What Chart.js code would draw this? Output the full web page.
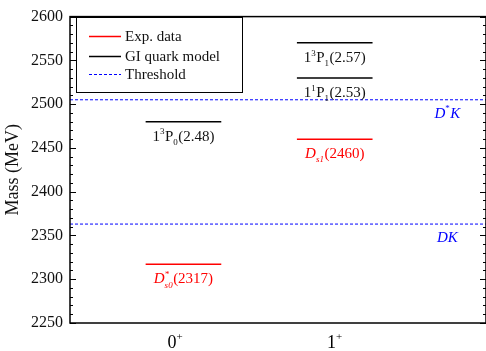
<!DOCTYPE html>
<html>
<head>
<meta charset="utf-8">
<script src="https://cdn.jsdelivr.net/npm/chart.js@4/dist/chart.umd.min.js"></script>
<style>
html,body{margin:0;padding:0;background:#fff;}
#wrap{width:486px;height:351px;}
</style>
</head>
<body>
<div id="wrap"><canvas id="c" width="486" height="351"></canvas></div>
<script>
// ---- data ----
const categories = ['0', '1'];          // J^P = 0+, 1+
const categoryPos = [1, 2];
const expCat = [1, 2];
const expMass = [2317, 2460];
const expLabels = [
  [{t:'D', it:true}, {sub:'s0', sup:'*', it:true}, {t:'(2317)'}],
  [{t:'D', it:true}, {sub:'s1', it:true}, {t:'(2460)'}]
];
const giCat = [1, 2, 2];
const giMass = [2480, 2530, 2570];
const giLabels = [
  [{t:'1'}, {sup:'3'}, {t:'P'}, {sub:'0'}, {t:'(2.48)'}],
  [{t:'1'}, {sup:'1'}, {t:'P'}, {sub:'1'}, {t:'(2.53)'}],
  [{t:'1'}, {sup:'3'}, {t:'P'}, {sub:'1'}, {t:'(2.57)'}]
];
const thresholdMass = [2363, 2505];
const thresholdLabels = [
  [{t:'DK', it:true}],
  [{t:'D', it:true}, {sup:'*'}, {t:'K', it:true}]
];
const legendNames = ['Exp. data', 'GI quark model', 'Threshold'];
const yMin = 2250, yMax = 2600, yMajor = 50, yMinor = 10;
const xMin = 0.25, xMax = 3.0;
const halfW = 0.25;

const RED = '#ff0000', BLACK = '#000000', BLUE = '#0000ff';
const SERIF = '"Liberation Serif", "Times New Roman", serif';

const datasets = [];
expMass.forEach((m, i) => datasets.push({
  label: legendNames[0], data: [{x: expCat[i]-halfW, y: m}, {x: expCat[i]+halfW, y: m}],
  borderColor: RED, borderWidth: 1.5, pointRadius: 0, showLine: true, rich: expLabels[i], textColor: RED
}));
giMass.forEach((m, i) => datasets.push({
  label: legendNames[1], data: [{x: giCat[i]-halfW, y: m}, {x: giCat[i]+halfW, y: m}],
  borderColor: BLACK, borderWidth: 1.5, pointRadius: 0, showLine: true, rich: giLabels[i], textColor: '#111'
}));
thresholdMass.forEach((m, i) => datasets.push({
  label: legendNames[2], data: [{x: xMin, y: m}, {x: xMax, y: m}],
  borderColor: BLUE, borderWidth: 1, borderDash: [3, 2], pointRadius: 0, showLine: true,
  thr: thresholdLabels[i]
}));

function measureRich(ctx, segs, size) {
  let w = 0;
  segs.forEach(s => {
    if (s.t) { ctx.font = (s.it ? 'italic ' : '') + size + 'px ' + SERIF; w += ctx.measureText(s.t).width; }
    else {
      const ss = Math.round(size * 0.62);
      ctx.font = (s.it ? 'italic ' : '') + ss + 'px ' + SERIF;
      const a = s.sup ? ctx.measureText(s.sup).width : 0;
      const b = s.sub ? ctx.measureText(s.sub).width : 0;
      w += Math.max(a, b) + 0.5;
    }
  });
  return w;
}
function drawRich(ctx, segs, cx, baseY, size, color) {
  const w = measureRich(ctx, segs, size);
  let x = cx - w / 2;
  ctx.fillStyle = color;
  ctx.textBaseline = 'alphabetic';
  ctx.textAlign = 'left';
  segs.forEach(s => {
    if (s.t) {
      ctx.font = (s.it ? 'italic ' : '') + size + 'px ' + SERIF;
      ctx.fillText(s.t, x, baseY);
      x += ctx.measureText(s.t).width;
    } else {
      const ss = Math.round(size * 0.62);
      ctx.font = (s.it ? 'italic ' : '') + ss + 'px ' + SERIF;
      let a = 0, b = 0;
      if (s.sup) { ctx.fillText(s.sup, x, baseY - size * 0.42); a = ctx.measureText(s.sup).width; }
      if (s.sub) { ctx.fillText(s.sub, x, baseY + size * 0.28); b = ctx.measureText(s.sub).width; }
      x += Math.max(a, b) + 0.5;
    }
  });
}

const decor = {
  id: 'decor',
  afterDatasetsDraw(chart) {
    const ctx = chart.ctx, a = chart.chartArea;
    const xs = chart.scales.x, ys = chart.scales.y;
    ctx.save();
    // level labels
    chart.data.datasets.forEach(ds => {
      if (ds.rich) {
        const cx = xs.getPixelForValue((ds.data[0].x + ds.data[1].x) / 2);
        const py = ys.getPixelForValue(ds.data[0].y);
        drawRich(ctx, ds.rich, cx, py + 19, 15, ds.textColor);
      }
      if (ds.thr) {
        const py = ys.getPixelForValue(ds.data[0].y);
        drawRich(ctx, ds.thr, xs.getPixelForValue(2.745), py + 18, 15, BLUE);
      }
    });
    // frame
    ctx.strokeStyle = '#000';
    ctx.lineWidth = 1.5;
    ctx.strokeRect(a.left, a.top, a.right - a.left, a.bottom - a.top);
    // y ticks inward on both sides
    ctx.lineWidth = 1;
    for (let v = yMin; v <= yMax; v += yMinor) {
      const py = Math.round(ys.getPixelForValue(v)) + 0.5;
      const len = (v % yMajor === 0) ? 6 : 3;
      ctx.beginPath();
      ctx.moveTo(a.left, py); ctx.lineTo(a.left + len, py);
      ctx.moveTo(a.right, py); ctx.lineTo(a.right - len, py);
      ctx.stroke();
    }
    // x category labels
    categories.forEach((c, i) => {
      const cx = xs.getPixelForValue(categoryPos[i]);
      drawRich(ctx, [{t: c}, {sup: '+'}], cx - (i === 0 ? 8 : 0), a.bottom + 25, 18, '#000');
    });
    // legend box
    const lx = 76, ly = 17, lw = 166, lh = 75;
    ctx.fillStyle = '#fff';
    ctx.fillRect(lx, ly, lw, lh);
    ctx.strokeStyle = '#000';
    ctx.lineWidth = 1;
    ctx.strokeRect(lx + 0.5, ly + 0.5, lw, lh);
    const cols = [RED, BLACK, BLUE];
    const rows = [36, 56, 74];
    legendNames.forEach((n, i) => {
      ctx.strokeStyle = cols[i];
      ctx.lineWidth = i === 2 ? 1 : 1.5;
      ctx.setLineDash(i === 2 ? [3, 2] : []);
      ctx.beginPath();
      ctx.moveTo(89, rows[i] + 0.5); ctx.lineTo(121, rows[i] + 0.5);
      ctx.stroke();
      ctx.setLineDash([]);
      ctx.fillStyle = '#111';
      ctx.font = '15px ' + SERIF;
      ctx.textAlign = 'left';
      ctx.textBaseline = 'middle';
      ctx.fillText(n, 125, rows[i] + 1);
    });
    ctx.restore();
  }
};

new Chart(document.getElementById('c'), {
  type: 'scatter',
  data: { datasets },
  plugins: [decor],
  options: {
    responsive: false,
    animation: false,
    devicePixelRatio: 1,
    layout: { padding: { top: 15, right: 0, left: 0, bottom: 0 } },
    plugins: { legend: { display: false }, tooltip: { enabled: false } },
    scales: {
      x: {
        type: 'linear', min: xMin, max: xMax,
        grid: { display: false, drawTicks: false }, border: { display: false },
        ticks: { display: false },
        afterFit(s) { s.height = 28; }
      },
      y: {
        type: 'linear', min: yMin, max: yMax,
        grid: { display: false, drawTicks: false }, border: { display: false },
        ticks: { stepSize: yMajor, padding: 7, color: '#111', font: { family: SERIF, size: 16 },
                 callback: v => String(v) },
        title: { display: true, text: 'Mass (MeV)', color: '#111', font: { family: SERIF, size: 18 }, padding: { top: 2, bottom: 0 } },
        afterFit(s) { s.width = 70; }
      }
    }
  }
});
</script>
</body>
</html>
